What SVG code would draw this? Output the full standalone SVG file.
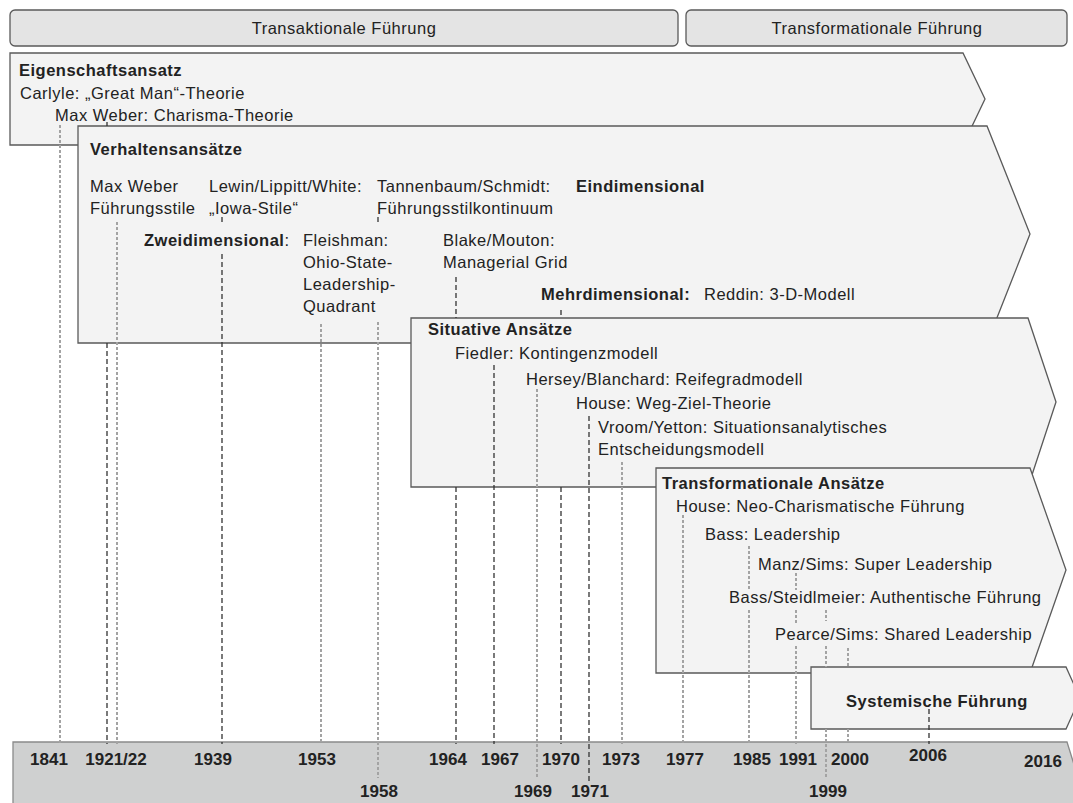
<svg xmlns="http://www.w3.org/2000/svg" width="1073" height="803" viewBox="0 0 1073 803">
<style>
text{font-family:"Liberation Sans",Arial,sans-serif;font-size:16.5px;fill:#222;letter-spacing:0.5px}
.bd{font-weight:bold}
.yr{font-weight:bold;font-size:17px;letter-spacing:0;text-anchor:middle}
.mid{text-anchor:middle}
.hdr{fill:#e4e4e4;stroke:#5a5a5a;stroke-width:1.3}
.box{fill:#f3f3f3;stroke:#5a5a5a;stroke-width:1.3}
.bar{fill:#cfd0d0;stroke:#8a8a8a;stroke-width:1.3}
.g{stroke:#a3a3a3;stroke-width:2;stroke-dasharray:3 2;fill:none}
.k{stroke:#333;stroke-width:1.3;stroke-dasharray:5 3;fill:none}
</style>
<rect width="1073" height="803" fill="#fff"/>
<g id="hdr-transaktional">
<rect class="hdr" x="10" y="10" width="668" height="36" rx="5"/>
<text class="mid" x="344" y="34">Transaktionale Führung</text>
</g>
<g id="hdr-transformational">
<rect class="hdr" x="686" y="10" width="381" height="36" rx="5"/>
<text class="mid" x="877" y="34">Transformationale Führung</text>
</g>
<g id="eigenschaftsansatz">
<polygon class="box" points="10,53 963,53 985,99 963,145 10,145"/>
<text class="bd" x="19" y="76">Eigenschaftsansatz</text>
<text x="20" y="99">Carlyle: „Great Man“-Theorie</text>
<text x="55" y="121">Max Weber: Charisma-Theorie</text>
</g>
<g id="verhaltensansaetze">
<polygon class="box" points="78,126 987,126 1030,234 987,343 78,343"/>
<text class="bd" x="90" y="155">Verhaltensansätze</text>
<text x="90" y="192">Max Weber</text>
<text x="90" y="214">Führungsstile</text>
<text x="209" y="192">Lewin/Lippitt/White:</text>
<text x="209" y="214">„Iowa-Stile“</text>
<text x="377" y="192">Tannenbaum/Schmidt:</text>
<text x="377" y="214">Führungsstilkontinuum</text>
<text class="bd" x="576" y="192">Eindimensional</text>
<text x="144" y="246"><tspan class="bd">Zweidimensional</tspan>:</text>
<text x="303" y="246">Fleishman:</text>
<text x="303" y="268">Ohio-State-</text>
<text x="303" y="290">Leadership-</text>
<text x="303" y="312">Quadrant</text>
<text x="443" y="246">Blake/Mouton:</text>
<text x="443" y="268">Managerial Grid</text>
<text class="bd" x="541" y="300">Mehrdimensional:</text>
<text x="704" y="300">Reddin: 3-D-Modell</text>
</g>
<g id="situative-ansaetze">
<polygon class="box" points="411,318 1028,318 1056,402 1028,487 411,487"/>
<text class="bd" x="428" y="335">Situative Ansätze</text>
<text x="455" y="359">Fiedler: Kontingenzmodell</text>
<text x="526" y="385">Hersey/Blanchard: Reifegradmodell</text>
<text x="576" y="409">House: Weg-Ziel-Theorie</text>
<text x="598" y="433">Vroom/Yetton: Situationsanalytisches</text>
<text x="598" y="455">Entscheidungsmodell</text>
</g>
<g id="transformationale-ansaetze">
<polygon class="box" points="656,468 1030,468 1066,570 1030,673 656,673"/>
<text class="bd" x="662" y="489">Transformationale Ansätze</text>
<text x="676" y="512">House: Neo-Charismatische Führung</text>
<text x="705" y="540">Bass: Leadership</text>
<text x="758" y="570">Manz/Sims: Super Leadership</text>
<text x="729" y="603">Bass/Steidlmeier: Authentische Führung</text>
<text x="775" y="640">Pearce/Sims: Shared Leadership</text>
</g>
<g id="systemische-fuehrung">
<polygon class="box" points="811,667 1066,667 1080,698 1066,729 811,729"/>
<text class="bd mid" x="937" y="707">Systemische Führung</text>
</g>
<g id="timeline">
<polygon class="bar" points="13,742 1067,742 1082,790 1067,840 13,840"/>
<text class="yr" x="49" y="765">1841</text>
<text class="yr" x="116" y="765">1921/22</text>
<text class="yr" x="213" y="765">1939</text>
<text class="yr" x="317" y="765">1953</text>
<text class="yr" x="379" y="797">1958</text>
<text class="yr" x="448" y="765">1964</text>
<text class="yr" x="500" y="765">1967</text>
<text class="yr" x="533" y="797">1969</text>
<text class="yr" x="561" y="765">1970</text>
<text class="yr" x="590" y="797">1971</text>
<text class="yr" x="621" y="765">1973</text>
<text class="yr" x="685" y="765">1977</text>
<text class="yr" x="752" y="765">1985</text>
<text class="yr" x="798" y="765">1991</text>
<text class="yr" x="828" y="797">1999</text>
<text class="yr" x="850" y="765">2000</text>
<text class="yr" x="928" y="761">2006</text>
<text class="yr" x="1043" y="767">2016</text>
</g>
<g id="connectors">
<path class="g" d="M60,125V744"/>
<path class="k" d="M107,122V126M107,343V744"/>
<path class="g" d="M117,222V744"/>
<path class="k" d="M222,217V223M222,254V744"/>
<path class="g" d="M321,324V744"/>
<path class="k" d="M378,217V223"/>
<path class="g" d="M378,322V778"/>
<path class="k" d="M456,277V318M456,487V744"/>
<path class="k" d="M494,365V744"/>
<path class="g" d="M537,389V778"/>
<path class="k" d="M561,310V318M561,487V744"/>
<path class="k" d="M589,416V781"/>
<path class="g" d="M622,462V744"/>
<path class="g" d="M683,515V744"/>
<path class="g" d="M749,546V590M749,610V744"/>
<path class="g" d="M796,573V590M796,610V625M796,646V744"/>
<path class="g" d="M826,610V621M826,646V667M826,729V778"/>
<path class="g" d="M848,648V667M848,729V744"/>
<path class="k" d="M929,709V744"/>
</g>
</svg>
